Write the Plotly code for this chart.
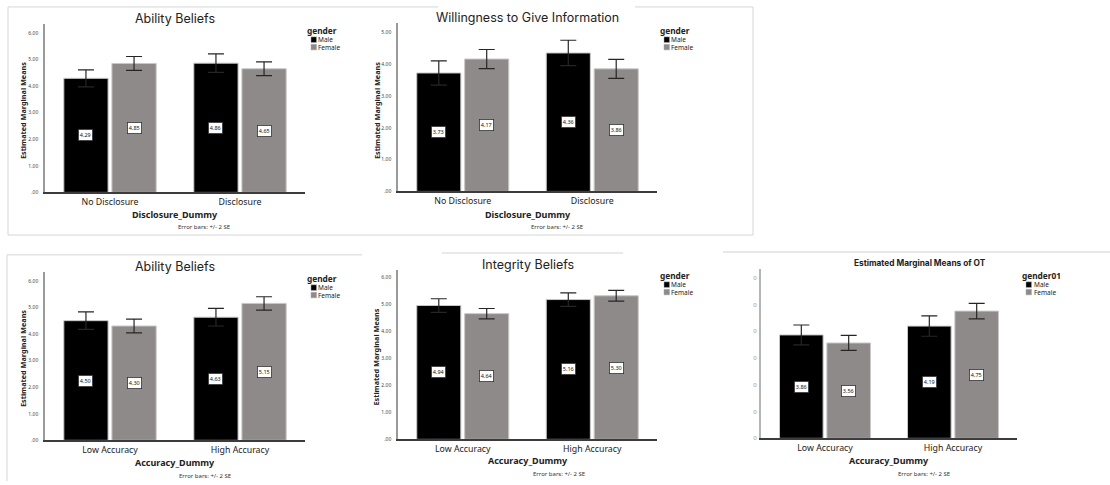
import plotly.graph_objects as go

# ---------------- data ----------------
disclosure_cats = ["No Disclosure", "Disclosure"]
accuracy_cats = ["Low Accuracy", "High Accuracy"]
y_ticks = [0, 1, 2, 3, 4, 5, 6]
y_ticktext = [".00", "1.00", "2.00", "3.00", "4.00", "5.00", "6.00"]
ot_ticktext = ["0", "0", "0", "0", "0", "0", "0"]

ability_disc_male = [4.29, 4.86]
ability_disc_female = [4.85, 4.65]
ability_disc_male_err = [0.32, 0.35]
ability_disc_female_err = [0.26, 0.26]

willing_male = [3.73, 4.36]
willing_female = [4.17, 3.86]
willing_male_err = [0.38, 0.40]
willing_female_err = [0.30, 0.30]

ability_acc_male = [4.50, 4.63]
ability_acc_female = [4.30, 5.15]
ability_acc_male_err = [0.33, 0.33]
ability_acc_female_err = [0.26, 0.25]

integrity_male = [4.94, 5.16]
integrity_female = [4.64, 5.30]
integrity_male_err = [0.25, 0.25]
integrity_female_err = [0.19, 0.20]

ot_male = [3.86, 4.19]
ot_female = [3.56, 4.75]
ot_male_err = [0.37, 0.38]
ot_female_err = [0.28, 0.29]

# ---------------- layout helpers ----------------
W, H = 1110, 485
def px(x): return x / W
def py(y): return 1 - y / H

MALE = "#000000"
FEMALE = "#8e8a8a"
BARGAP = 0.26
BARGROUPGAP = 0.08
OFF = (1 - BARGAP) / 4

panels = [
    dict(title="Ability Beliefs", cats=disclosure_cats, xtitle="Disclosure_Dummy",
         m=ability_disc_male, f=ability_disc_female, me=ability_disc_male_err, fe=ability_disc_female_err,
         xd=(45, 305), yd=(24, 194), ytop=6.34, legend="gender", ticktext=y_ticktext,
         ytitle_x=23, err_x=204, err_y=229, title_y=19, xtitle_y=216, leg=(305, 31), tsize=12.5, tbold=False),
    dict(title="Willingness to Give Information", cats=disclosure_cats, xtitle="Disclosure_Dummy",
         m=willing_male, f=willing_female, me=willing_male_err, fe=willing_female_err,
         xd=(398, 657), yd=(23, 193), ytop=5.31, legend="gender", ticktext=y_ticktext[:6],
         ytitle_x=377, err_x=557, err_y=229, title_y=18, xtitle_y=216, leg=(658, 31), tsize=12.5, tbold=False),
    dict(title="Ability Beliefs", cats=accuracy_cats, xtitle="Accuracy_Dummy",
         m=ability_acc_male, f=ability_acc_female, me=ability_acc_male_err, fe=ability_acc_female_err,
         xd=(45, 305), yd=(274, 444), ytop=6.34, legend="gender", ticktext=y_ticktext,
         ytitle_x=23, err_x=205, err_y=480, title_y=269, xtitle_y=466, leg=(305, 281), tsize=12.5, tbold=False),
    dict(title="Integrity Beliefs", cats=accuracy_cats, xtitle="Accuracy_Dummy",
         m=integrity_male, f=integrity_female, me=integrity_male_err, fe=integrity_female_err,
         xd=(398, 657), yd=(272, 443), ytop=6.26, legend="gender", ticktext=y_ticktext,
         ytitle_x=376, err_x=559, err_y=478, title_y=267, xtitle_y=464, leg=(658, 278), tsize=12.5, tbold=False),
    dict(title="Estimated Marginal Means of OT", cats=accuracy_cats, xtitle="Accuracy_Dummy",
         m=ot_male, f=ot_female, me=ot_male_err, fe=ot_female_err,
         xd=(761, 1017), yd=(271, 442), ytop=6.33, legend="gender01", ticktext=ot_ticktext,
         ytitle_x=None, err_x=924, err_y=478, title_y=265, xtitle_y=464, leg=(1020, 278), tsize=8.3, tbold=True),
]

fig = go.Figure()
annotations = []
shapes = []
layout = dict(
    width=W, height=H, margin=dict(l=0, r=0, t=0, b=0),
    paper_bgcolor="white", plot_bgcolor="white", showlegend=False,
    barmode="group", bargap=BARGAP, bargroupgap=BARGROUPGAP,
)

TXT = "#222222"
for i, p in enumerate(panels):
    n = "" if i == 0 else str(i + 1)
    xa, ya = "x" + n, "y" + n
    ticks = y_ticks[:len(p["ticktext"])]
    for name, vals, errs, col in [("Male", p["m"], p["me"], MALE), ("Female", p["f"], p["fe"], FEMALE)]:
        fig.add_trace(go.Bar(
            x=p["cats"], y=vals, name=name, xaxis=xa, yaxis=ya,
            marker=dict(color=col, line=dict(color="#c8c8c8", width=1)),
            error_y=dict(type="data", array=errs, visible=True, color="#262626", thickness=1.2, width=8),
            hoverinfo="x+y",
        ))
        sign = -1 if name == "Male" else 1
        for j, v in enumerate(vals):
            annotations.append(dict(
                x=j + sign * OFF, y=v / 2, xref=xa, yref=ya, text=f"{v:.2f}", showarrow=False,
                font=dict(size=5.5, color="#111", family="Noto Sans"),
                bgcolor="white", bordercolor="#333", borderwidth=0.8, borderpad=1,
            ))
    last = i == 4
    layout["xaxis" + n] = dict(
        domain=[px(p["xd"][0]), px(p["xd"][1])], anchor=ya, type="category", range=[-0.5, 1.5],
        showline=True, linecolor="#3c3c3c", linewidth=2, showgrid=False, zeroline=False,
        ticks="", tickfont=dict(size=8.8, color=TXT, family="Noto Sans"), fixedrange=True,
    )
    layout["yaxis" + n] = dict(
        domain=[py(p["yd"][1]), py(p["yd"][0])], anchor=xa, range=[0, p["ytop"]],
        showline=True, linecolor="#9a9a9a" if not last else "#b5b5b5", linewidth=1.5 if not last else 2,
        showgrid=False, zeroline=False,
        tickvals=ticks, ticktext=p["ticktext"], ticks="outside", ticklen=4 if not last else 1,
        tickcolor="white",
        tickfont=dict(size=5 if not last else 6, color="#444" if not last else "#999", family="Noto Sans"),
        fixedrange=True,
    )
    # chart title
    tfont = dict(size=p["tsize"], color=TXT, family="Inter")
    annotations.append(dict(x=px((p["xd"][0] + p["xd"][1]) / 2 + (0 if not last else 31)), y=py(p["title_y"]),
                            xref="paper", yref="paper", showarrow=False,
                            text=("<b>%s</b>" % p["title"]) if p["tbold"] else p["title"],
                            font=tfont, xanchor="center", yanchor="middle"))
    # x title
    annotations.append(dict(x=px((p["xd"][0] + p["xd"][1]) / 2), y=py(p["xtitle_y"]), xref="paper", yref="paper",
                            showarrow=False, text="<b>%s</b>" % p["xtitle"],
                            font=dict(size=9, color=TXT, family="Noto Sans"), xanchor="center", yanchor="middle"))
    # error note
    annotations.append(dict(x=px(p["err_x"]), y=py(p["err_y"]), xref="paper", yref="paper",
                            showarrow=False, text="Error bars: +/- 2 SE",
                            font=dict(size=6, color="#333", family="Noto Sans"), xanchor="center", yanchor="middle"))
    # y title
    if p["ytitle_x"] is not None:
        annotations.append(dict(x=px(p["ytitle_x"]), y=py((p["yd"][0] + p["yd"][1]) / 2 + 3), xref="paper", yref="paper",
                                showarrow=False, text="<b>Estimated Marginal Means</b>", textangle=-90,
                                font=dict(size=7.3, color=TXT, family="Noto Sans"), xanchor="center", yanchor="middle"))
    # legend (drawn)
    lx, ly = p["leg"]
    annotations.append(dict(x=px(lx), y=py(ly), xref="paper", yref="paper", showarrow=False,
                            text="<b>%s</b>" % p["legend"], font=dict(size=8.3, color=TXT, family="Noto Sans"),
                            xanchor="left", yanchor="middle"))
    for k, (lab, col) in enumerate([("Male", MALE), ("Female", FEMALE)]):
        yy = ly + 9 + k * 7.5
        shapes.append(dict(type="rect", xref="paper", yref="paper",
                           x0=px(lx + 6), x1=px(lx + 11.5), y0=py(yy + 2.8), y1=py(yy - 2.8),
                           fillcolor=col, line=dict(color="#aaa", width=0.5)))
        annotations.append(dict(x=px(lx + 11.5), y=py(yy), xref="paper", yref="paper", showarrow=False,
                                text=lab, font=dict(size=6.5, color=TXT, family="Noto Sans"),
                                xanchor="left", yanchor="middle"))

# screenshot frame lines
FR = "#d6d6d6"
def hline(x0, x1, y, c=FR, w=1):
    shapes.append(dict(type="line", xref="paper", yref="paper", x0=px(x0), x1=px(x1), y0=py(y), y1=py(y),
                       line=dict(color=c, width=w)))
def vline(x, y0, y1, c=FR, w=1):
    shapes.append(dict(type="line", xref="paper", yref="paper", x0=px(x), x1=px(x), y0=py(y0), y1=py(y1),
                       line=dict(color=c, width=w)))
hline(8, 438, 7); hline(635, 753, 7); hline(8, 753, 237)
vline(8, 7, 237); vline(753, 7, 237)
hline(7, 362, 257); hline(442, 623, 255, "#e2e2e2", 1.5); hline(723, 1110, 254, "#e8e8e8", 2)
vline(7, 257, 485)

layout["annotations"] = annotations
layout["shapes"] = shapes
fig.update_layout(**layout)
fig.write_html("out.html")
